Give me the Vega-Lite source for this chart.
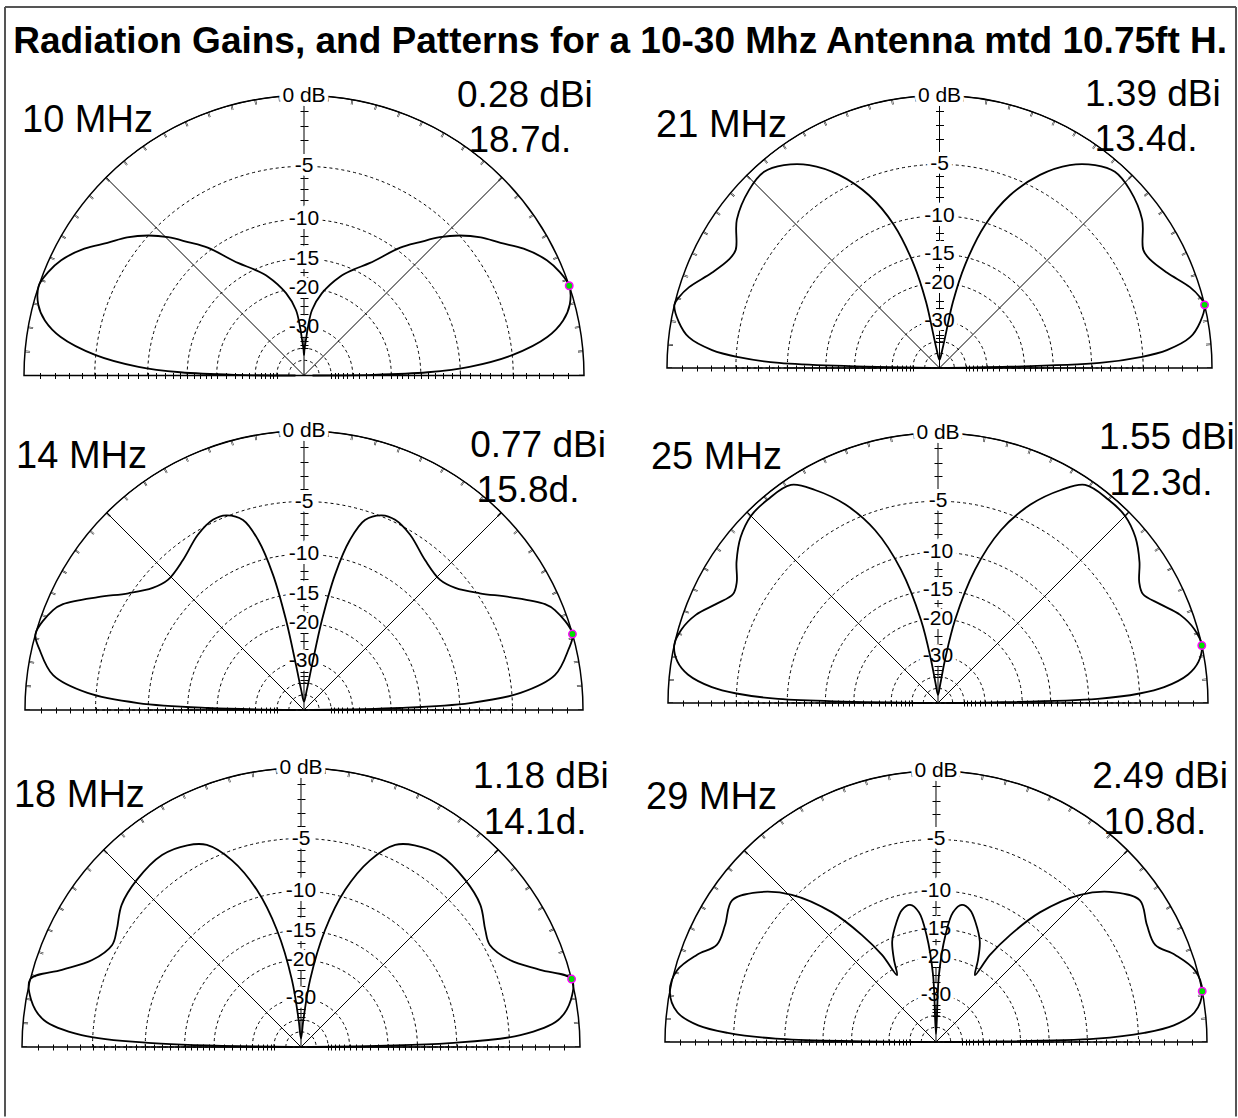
{
"$schema":"https://vega.github.io/schema/vega-lite/v6.json",
"background":"white",
"padding":{"left":4,"top":6,"right":0,"bottom":0},
"config":{"view":{"stroke":null},"axis":{"labels":false,"grid":false}},
"datasets":{
"rings":[{"db":0,"lab":"0 dB"},{"db":-5,"lab":"-5"},{"db":-10,"lab":"-10"},{"db":-15,"lab":"-15"},{"db":-20,"lab":"-20"},{"db":-30,"lab":"-30"},{"db":-40,"lab":""},{"db":-50,"lab":""}],
"info":[{"b":10,"f":"10 MHz","gn":"0.28 dBi","an":"18.7d.","ang":18.7},{"b":21,"f":"21 MHz","gn":"1.39 dBi","an":"13.4d.","ang":13.4},{"b":14,"f":"14 MHz","gn":"0.77 dBi","an":"15.8d.","ang":15.8},{"b":25,"f":"25 MHz","gn":"1.55 dBi","an":"12.3d.","ang":12.3},{"b":18,"f":"18 MHz","gn":"1.18 dBi","an":"14.1d.","ang":14.1},{"b":29,"f":"29 MHz","gn":"2.49 dBi","an":"10.8d.","ang":10.8}],
"heading":[{"t":"Radiation Gains, and Patterns for a 10-30 Mhz Antenna mtd 10.75ft H."}],
"pat":[
{"b":10,"a":0,"g":-60},{"b":10,"a":0.5,"g":-24},{"b":10,"a":1.5,"g":-14},{"b":10,"a":3,"g":-9},{"b":10,"a":5.6,"g":-5},{"b":10,"a":9,"g":-2.2},{"b":10,"a":12,"g":-0.95},{"b":10,"a":15,"g":-0.3},{"b":10,"a":18.7,"g":0},{"b":10,"a":22,"g":-0.25},{"b":10,"a":25.4,"g":-0.7},{"b":10,"a":30,"g":-1.7},{"b":10,"a":34,"g":-2.85},{"b":10,"a":38,"g":-3.8},{"b":10,"a":42,"g":-5},{"b":10,"a":45.5,"g":-6.3},{"b":10,"a":49,"g":-7.9},{"b":10,"a":53,"g":-9.6},{"b":10,"a":59.6,"g":-13.1},{"b":10,"a":65,"g":-15},{"b":10,"a":70,"g":-16.8},{"b":10,"a":77.7,"g":-20.6},{"b":10,"a":83,"g":-24.8},{"b":10,"a":85.3,"g":-30},{"b":10,"a":86.8,"g":-35},{"b":10,"a":89,"g":-41},{"b":10,"a":90,"g":-45},
{"b":10,"a":91,"g":-41},{"b":10,"a":93.2,"g":-35},{"b":10,"a":94.7,"g":-30},{"b":10,"a":97,"g":-24.8},{"b":10,"a":102.3,"g":-20.6},{"b":10,"a":110,"g":-16.8},{"b":10,"a":115,"g":-15},{"b":10,"a":120.4,"g":-13.1},{"b":10,"a":127,"g":-9.6},{"b":10,"a":131,"g":-7.9},{"b":10,"a":134.5,"g":-6.3},{"b":10,"a":138,"g":-5},{"b":10,"a":142,"g":-3.8},{"b":10,"a":146,"g":-2.85},{"b":10,"a":150,"g":-1.7},{"b":10,"a":154.6,"g":-0.7},{"b":10,"a":158,"g":-0.25},{"b":10,"a":161.3,"g":0},{"b":10,"a":165,"g":-0.3},{"b":10,"a":168,"g":-0.95},{"b":10,"a":171,"g":-2.2},{"b":10,"a":174.4,"g":-5},{"b":10,"a":177,"g":-9},{"b":10,"a":178.5,"g":-14},{"b":10,"a":179.5,"g":-24},{"b":10,"a":180,"g":-60},
{"b":21,"a":0,"g":-60},{"b":21,"a":1.8,"g":-9.1},{"b":21,"a":3.1,"g":-5.2},{"b":21,"a":4.5,"g":-3.05},{"b":21,"a":7,"g":-1.3},{"b":21,"a":10,"g":-0.5},{"b":21,"a":13.4,"g":0},{"b":21,"a":15.2,"g":-0.16},{"b":21,"a":17.9,"g":-0.6},{"b":21,"a":22.7,"g":-1.7},{"b":21,"a":27.2,"g":-2.4},{"b":21,"a":30.1,"g":-2.5},{"b":21,"a":36.2,"g":-1.4},{"b":21,"a":43.1,"g":-0.76},{"b":21,"a":48.2,"g":-0.6},{"b":21,"a":52.5,"g":-1.1},{"b":21,"a":57.3,"g":-2.1},{"b":21,"a":62.5,"g":-3.85},{"b":21,"a":67.8,"g":-6.5},{"b":21,"a":72.3,"g":-10.2},{"b":21,"a":76.1,"g":-16.2},{"b":21,"a":78.5,"g":-24},{"b":21,"a":79.5,"g":-35},{"b":21,"a":81,"g":-45},{"b":21,"a":90,"g":-60},
{"b":21,"a":99,"g":-45},{"b":21,"a":100.5,"g":-35},{"b":21,"a":101.5,"g":-24},{"b":21,"a":103.9,"g":-16.2},{"b":21,"a":107.7,"g":-10.2},{"b":21,"a":112.2,"g":-6.5},{"b":21,"a":117.5,"g":-3.85},{"b":21,"a":122.7,"g":-2.1},{"b":21,"a":127.5,"g":-1.1},{"b":21,"a":131.8,"g":-0.6},{"b":21,"a":136.9,"g":-0.76},{"b":21,"a":143.8,"g":-1.4},{"b":21,"a":149.9,"g":-2.5},{"b":21,"a":152.8,"g":-2.4},{"b":21,"a":157.3,"g":-1.7},{"b":21,"a":162.1,"g":-0.6},{"b":21,"a":164.8,"g":-0.16},{"b":21,"a":166.6,"g":0},{"b":21,"a":170,"g":-0.5},{"b":21,"a":173,"g":-1.3},{"b":21,"a":175.5,"g":-3.05},{"b":21,"a":176.9,"g":-5.2},{"b":21,"a":178.2,"g":-9.1},{"b":21,"a":180,"g":-60},
{"b":14,"a":0,"g":-60},{"b":14,"a":1.2,"g":-18.3},{"b":14,"a":2.4,"g":-8.9},{"b":14,"a":4.5,"g":-4.3},{"b":14,"a":7.9,"g":-1.66},{"b":14,"a":12.8,"g":-0.5},{"b":14,"a":15.8,"g":0},{"b":14,"a":21.7,"g":-0.56},{"b":14,"a":23.7,"g":-1},{"b":14,"a":28.7,"g":-2.95},{"b":14,"a":33.6,"g":-4.8},{"b":14,"a":38.9,"g":-6.2},{"b":14,"a":43.7,"g":-6.75},{"b":14,"a":51.1,"g":-6.35},{"b":14,"a":58.8,"g":-5.3},{"b":14,"a":64.4,"g":-4.8},{"b":14,"a":68.2,"g":-4.9},{"b":14,"a":72.2,"g":-5.75},{"b":14,"a":74.9,"g":-7.9},{"b":14,"a":77.1,"g":-12},{"b":14,"a":78.7,"g":-19.1},{"b":14,"a":79.9,"g":-31},{"b":14,"a":82,"g":-45},{"b":14,"a":90,"g":-60},
{"b":14,"a":98,"g":-45},{"b":14,"a":100.1,"g":-31},{"b":14,"a":101.3,"g":-19.1},{"b":14,"a":102.9,"g":-12},{"b":14,"a":105.1,"g":-7.9},{"b":14,"a":107.8,"g":-5.75},{"b":14,"a":111.8,"g":-4.9},{"b":14,"a":115.6,"g":-4.8},{"b":14,"a":121.2,"g":-5.3},{"b":14,"a":128.9,"g":-6.35},{"b":14,"a":136.3,"g":-6.75},{"b":14,"a":141.1,"g":-6.2},{"b":14,"a":146.4,"g":-4.8},{"b":14,"a":151.3,"g":-2.95},{"b":14,"a":156.3,"g":-1},{"b":14,"a":158.3,"g":-0.56},{"b":14,"a":164.2,"g":0},{"b":14,"a":167.2,"g":-0.5},{"b":14,"a":172.1,"g":-1.66},{"b":14,"a":175.5,"g":-4.3},{"b":14,"a":177.6,"g":-8.9},{"b":14,"a":178.8,"g":-18.3},{"b":14,"a":180,"g":-60},
{"b":25,"a":0,"g":-60},{"b":25,"a":1.5,"g":-9},{"b":25,"a":2.7,"g":-5},{"b":25,"a":4,"g":-3},{"b":25,"a":6.5,"g":-1.2},{"b":25,"a":9,"g":-0.4},{"b":25,"a":12.3,"g":0},{"b":25,"a":16,"g":-0.2},{"b":25,"a":20,"g":-0.8},{"b":25,"a":24,"g":-1.8},{"b":25,"a":28,"g":-2.6},{"b":25,"a":31,"g":-2.4},{"b":25,"a":35,"g":-1.6},{"b":25,"a":40,"g":-0.8},{"b":25,"a":45,"g":-0.35},{"b":25,"a":50,"g":-0.3},{"b":25,"a":56,"g":-0.45},{"b":25,"a":60,"g":-1.6},{"b":25,"a":65,"g":-3.6},{"b":25,"a":70,"g":-6.6},{"b":25,"a":74.5,"g":-11.5},{"b":25,"a":78.4,"g":-19.9},{"b":25,"a":80.8,"g":-31.3},{"b":25,"a":83,"g":-45},{"b":25,"a":90,"g":-60},
{"b":25,"a":97,"g":-45},{"b":25,"a":99.2,"g":-31.3},{"b":25,"a":101.6,"g":-19.9},{"b":25,"a":105.5,"g":-11.5},{"b":25,"a":110,"g":-6.6},{"b":25,"a":115,"g":-3.6},{"b":25,"a":120,"g":-1.6},{"b":25,"a":124,"g":-0.45},{"b":25,"a":130,"g":-0.3},{"b":25,"a":135,"g":-0.35},{"b":25,"a":140,"g":-0.8},{"b":25,"a":145,"g":-1.6},{"b":25,"a":149,"g":-2.4},{"b":25,"a":152,"g":-2.6},{"b":25,"a":156,"g":-1.8},{"b":25,"a":160,"g":-0.8},{"b":25,"a":164,"g":-0.2},{"b":25,"a":167.7,"g":0},{"b":25,"a":171,"g":-0.4},{"b":25,"a":173.5,"g":-1.2},{"b":25,"a":176,"g":-3},{"b":25,"a":177.3,"g":-5},{"b":25,"a":178.5,"g":-9},{"b":25,"a":180,"g":-60},
{"b":18,"a":0,"g":-60},{"b":18,"a":1.5,"g":-10.8},{"b":18,"a":3.1,"g":-4.1},{"b":18,"a":6,"g":-1.3},{"b":18,"a":10,"g":-0.3},{"b":18,"a":14.1,"g":0},{"b":18,"a":17.9,"g":-1.8},{"b":18,"a":22.6,"g":-3.6},{"b":18,"a":28.4,"g":-4.5},{"b":18,"a":32.5,"g":-4.2},{"b":18,"a":38.4,"g":-3.4},{"b":18,"a":45.5,"g":-3},{"b":18,"a":54.1,"g":-2.8},{"b":18,"a":60.6,"g":-3.2},{"b":18,"a":65,"g":-3.85},{"b":18,"a":69.7,"g":-5.8},{"b":18,"a":74.3,"g":-9.2},{"b":18,"a":78.4,"g":-14.6},{"b":18,"a":82.3,"g":-24.3},{"b":18,"a":85,"g":-40},{"b":18,"a":90,"g":-60},
{"b":18,"a":95,"g":-40},{"b":18,"a":97.7,"g":-24.3},{"b":18,"a":101.6,"g":-14.6},{"b":18,"a":105.7,"g":-9.2},{"b":18,"a":110.3,"g":-5.8},{"b":18,"a":115,"g":-3.85},{"b":18,"a":119.4,"g":-3.2},{"b":18,"a":125.9,"g":-2.8},{"b":18,"a":134.5,"g":-3},{"b":18,"a":141.6,"g":-3.4},{"b":18,"a":147.5,"g":-4.2},{"b":18,"a":151.6,"g":-4.5},{"b":18,"a":157.4,"g":-3.6},{"b":18,"a":162.1,"g":-1.8},{"b":18,"a":165.9,"g":0},{"b":18,"a":170,"g":-0.3},{"b":18,"a":174,"g":-1.3},{"b":18,"a":176.9,"g":-4.1},{"b":18,"a":178.5,"g":-10.8},{"b":18,"a":180,"g":-60},
{"b":29,"a":0,"g":-60},{"b":29,"a":1.2,"g":-9},{"b":29,"a":2.5,"g":-4.5},{"b":29,"a":4,"g":-2.2},{"b":29,"a":6.5,"g":-0.7},{"b":29,"a":10.8,"g":0},{"b":29,"a":15.5,"g":-0.15},{"b":29,"a":20,"g":-1.07},{"b":29,"a":23.9,"g":-2.1},{"b":29,"a":29,"g":-2},{"b":29,"a":34.8,"g":-1.5},{"b":29,"a":40,"g":-2.6},{"b":29,"a":45.6,"g":-4.7},{"b":29,"a":51.3,"g":-8.4},{"b":29,"a":55.3,"g":-12.6},{"b":29,"a":58.2,"g":-16.7},{"b":29,"a":59.8,"g":-21.5},{"b":29,"a":62.9,"g":-18.5},{"b":29,"a":66.5,"g":-15.5},{"b":29,"a":71.6,"g":-13.2},{"b":29,"a":75.5,"g":-11.8},{"b":29,"a":79.3,"g":-11.4},{"b":29,"a":82.5,"g":-12.5},{"b":29,"a":85,"g":-16},{"b":29,"a":87.5,"g":-24},{"b":29,"a":90,"g":-60},
{"b":29,"a":92.5,"g":-24},{"b":29,"a":95,"g":-16},{"b":29,"a":97.5,"g":-12.5},{"b":29,"a":100.7,"g":-11.4},{"b":29,"a":104.5,"g":-11.8},{"b":29,"a":108.4,"g":-13.2},{"b":29,"a":113.5,"g":-15.5},{"b":29,"a":117.1,"g":-18.5},{"b":29,"a":120.2,"g":-21.5},{"b":29,"a":121.8,"g":-16.7},{"b":29,"a":124.7,"g":-12.6},{"b":29,"a":128.7,"g":-8.4},{"b":29,"a":134.4,"g":-4.7},{"b":29,"a":140,"g":-2.6},{"b":29,"a":145.2,"g":-1.5},{"b":29,"a":151,"g":-2},{"b":29,"a":156.1,"g":-2.1},{"b":29,"a":160,"g":-1.07},{"b":29,"a":164.5,"g":-0.15},{"b":29,"a":169.2,"g":0},{"b":29,"a":173.5,"g":-0.7},{"b":29,"a":176,"g":-2.2},{"b":29,"a":177.5,"g":-4.5},{"b":29,"a":178.8,"g":-9},{"b":29,"a":180,"g":-60}
]},
"columns":2,"spacing":0,"bounds":"flush",
"concat":[
{"width":615,"height":340,"resolve":{"axis":{"x":"independent","y":"independent"}},
"layer":[
{"data":{"name":"rings"},"transform":[{"filter":"datum.db < 0"},{"calculate":"exp(0.058267*datum.db)","as":"r"}],
"mark":{"type":"arc","theta":-1.5707963,"theta2":1.5707963,"filled":false,"stroke":"black","strokeWidth":1,"strokeDash":[3,3]},
"encoding":{"x":{"datum":0,"type":"quantitative","scale":{"domain":[-1.06786,1.12857],"nice":false,"zero":false},"axis":{"orient":"bottom","offset":-24.5,"values":[-0.9434,-0.89,-0.8396,-0.7921,-0.7473,-0.705,-0.6651,-0.6274,-0.5919,-0.5584,-0.5268,-0.497,-0.4689,-0.4423,-0.4173,-0.3937,-0.3714,-0.3504,-0.3305,-0.3118,-0.2775,-0.247,-0.2198,-0.1956,-0.1741,-0.155,-0.1379,-0.1228,-0.1092,-0.0972,0.0972,0.1092,0.1228,0.1379,0.155,0.1741,0.1956,0.2198,0.247,0.2775,0.3118,0.3305,0.3504,0.3714,0.3937,0.4173,0.4423,0.4689,0.497,0.5268,0.5584,0.5919,0.6274,0.6651,0.705,0.7473,0.7921,0.8396,0.89,0.9434],"tickSize":3,"domain":false,"labels":false,"grid":false,"title":null,"tickColor":"black"}},
"y":{"datum":0,"type":"quantitative","scale":{"domain":[-0.0875,1.12679],"nice":false,"zero":false},"axis":{"orient":"left","offset":-299,"values":[0.0972,0.1092,0.1228,0.1379,0.155,0.1741,0.1956,0.2198,0.247,0.2775,0.3118,0.3305,0.3504,0.3714,0.3937,0.4173,0.4423,0.4689,0.497,0.5268,0.5584,0.5919,0.6274,0.6651,0.705,0.7473,0.7921,0.8396,0.89,0.9434],"tickSize":4,"domain":false,"labels":false,"grid":false,"title":null,"tickColor":"black"}},
"radius":{"field":"r","type":"quantitative","stack":null,"scale":{"type":"linear","domain":[0,1],"range":[0,280],"zero":true,"nice":false}}}},
{"data":{"values":[{"k":1}]},
"mark":{"type":"arc","theta":-1.5707963,"theta2":1.5707963,"filled":false,"stroke":"black","strokeWidth":1.5},
"encoding":{"x":{"datum":0,"type":"quantitative","scale":{"domain":[-1.06786,1.12857],"nice":false,"zero":false},"axis":{"orient":"top","offset":-315.5,"values":[-0.9434,-0.89,-0.8396,-0.7921,-0.7473,-0.705,-0.6651,-0.6274,-0.5919,-0.5584,-0.5268,-0.497,-0.4689,-0.4423,-0.4173,-0.3937,-0.3714,-0.3504,-0.3305,-0.3118,-0.2775,-0.247,-0.2198,-0.1956,-0.1741,-0.155,-0.1379,-0.1228,-0.1092,-0.0972,0.0972,0.1092,0.1228,0.1379,0.155,0.1741,0.1956,0.2198,0.247,0.2775,0.3118,0.3305,0.3504,0.3714,0.3937,0.4173,0.4423,0.4689,0.497,0.5268,0.5584,0.5919,0.6274,0.6651,0.705,0.7473,0.7921,0.8396,0.89,0.9434],"tickSize":3,"domain":false,"labels":false,"grid":false,"title":null,"tickColor":"black"}},
"y":{"datum":0,"type":"quantitative","scale":{"domain":[-0.0875,1.12679],"nice":false,"zero":false},"axis":{"orient":"right","offset":-316,"values":[0.0972,0.1092,0.1228,0.1379,0.155,0.1741,0.1956,0.2198,0.247,0.2775,0.3118,0.3305,0.3504,0.3714,0.3937,0.4173,0.4423,0.4689,0.497,0.5268,0.5584,0.5919,0.6274,0.6651,0.705,0.7473,0.7921,0.8396,0.89,0.9434],"tickSize":4,"domain":false,"labels":false,"grid":false,"title":null,"tickColor":"black"}},
"radius":{"datum":1,"type":"quantitative","scale":{"type":"linear","domain":[0,1],"range":[0,280],"zero":true,"nice":false}}}},
{"data":{"values":[{"k":1}]},
"mark":{"type":"arc","theta":-0.7853982,"theta2":0.7853982,"filled":false,"stroke":"black","strokeWidth":1},
"encoding":{"x":{"datum":0,"type":"quantitative","scale":{"domain":[-1.06786,1.12857],"nice":false,"zero":false},"axis":null},"y":{"datum":0,"type":"quantitative","scale":{"domain":[-0.0875,1.12679],"nice":false,"zero":false},"axis":null},"radius":{"datum":1,"type":"quantitative","scale":{"type":"linear","domain":[0,1],"range":[0,280],"zero":true,"nice":false}}}},
{"data":{"values":[{"k":1}]},
"mark":{"type":"arc","theta":-1.5707963,"theta2":1.5707963,"filled":false,"stroke":"black","strokeWidth":5,"strokeDash":[0.5,23.716]},
"encoding":{"x":{"datum":0,"type":"quantitative","scale":{"domain":[-1.06786,1.12857],"nice":false,"zero":false},"axis":null},"y":{"datum":0,"type":"quantitative","scale":{"domain":[-0.0875,1.12679],"nice":false,"zero":false},"axis":null},"radius":{"datum":0.99107,"type":"quantitative","scale":{"type":"linear","domain":[0,1],"range":[0,280],"zero":true,"nice":false}},"radius2":{"datum":0.99107}}},
{"data":{"values":[{"k":1}]},
"mark":{"type":"rule","stroke":"black","strokeWidth":1},
"encoding":{"x":{"datum":0,"type":"quantitative","scale":{"domain":[-1.06786,1.12857],"nice":false,"zero":false},"axis":null},"y":{"datum":0,"type":"quantitative","scale":{"domain":[-0.0875,1.12679],"nice":false,"zero":false},"axis":null},"y2":{"datum":1}}},
{"data":{"name":"rings"},"transform":[{"filter":"datum.lab != ''"},{"calculate":"exp(0.058267*datum.db)","as":"r"}],
"mark":{"type":"text","font":"Liberation Sans","fontSize":21,"align":"center","baseline":"middle","fill":"white","stroke":"white","strokeWidth":8},
"encoding":{"x":{"datum":0,"type":"quantitative","scale":{"domain":[-1.06786,1.12857],"nice":false,"zero":false},"axis":null},"y":{"field":"r","type":"quantitative","scale":{"domain":[-0.0875,1.12679],"nice":false,"zero":false},"axis":null},"text":{"field":"lab"}}},
{"data":{"name":"rings"},"transform":[{"filter":"datum.lab != ''"},{"calculate":"exp(0.058267*datum.db)","as":"r"}],
"mark":{"type":"text","font":"Liberation Sans","fontSize":21,"align":"center","baseline":"middle","fill":"black"},
"encoding":{"x":{"datum":0,"type":"quantitative","scale":{"domain":[-1.06786,1.12857],"nice":false,"zero":false},"axis":null},"y":{"field":"r","type":"quantitative","scale":{"domain":[-0.0875,1.12679],"nice":false,"zero":false},"axis":null},"text":{"field":"lab"}}},
{"data":{"name":"pat"},"transform":[{"filter":"datum.b == 10"},{"calculate":"exp(0.058267*datum.g)","as":"r"},{"calculate":"datum.r*cos(datum.a*PI/180)","as":"px"},{"calculate":"datum.r*sin(datum.a*PI/180)","as":"py"}],
"mark":{"type":"line","stroke":"black","strokeWidth":1.8,"strokeJoin":"round","interpolate":"catmull-rom"},
"encoding":{"x":{"field":"px","type":"quantitative","scale":{"domain":[-1.06786,1.12857],"nice":false,"zero":false},"axis":null},"y":{"field":"py","type":"quantitative","scale":{"domain":[-0.0875,1.12679],"nice":false,"zero":false},"axis":null},"order":{"field":"a","type":"quantitative"}}},
{"data":{"name":"info"},"transform":[{"filter":"datum.b == 10"},{"calculate":"cos(datum.ang*PI/180)","as":"px"},{"calculate":"sin(datum.ang*PI/180)","as":"py"}],
"mark":{"type":"point","shape":"circle","filled":true,"fill":"#00e000","stroke":"#ff00ff","strokeWidth":1.5,"size":55,"opacity":1},
"encoding":{"x":{"field":"px","type":"quantitative","scale":{"domain":[-1.06786,1.12857],"nice":false,"zero":false},"axis":null},"y":{"field":"py","type":"quantitative","scale":{"domain":[-0.0875,1.12679],"nice":false,"zero":false},"axis":null}}},
{"data":{"name":"info"},"transform":[{"filter":"datum.b == 10"}],
"mark":{"type":"text","font":"Liberation Sans","fontSize":38,"align":"left","baseline":"alphabetic","fill":"black"},
"encoding":{"x":{"datum":-1.007,"type":"quantitative","scale":{"domain":[-1.06786,1.12857],"nice":false,"zero":false},"axis":null},"y":{"datum":0.87,"type":"quantitative","scale":{"domain":[-0.0875,1.12679],"nice":false,"zero":false},"axis":null},"text":{"field":"f"}}},
{"data":{"name":"info"},"transform":[{"filter":"datum.b == 10"}],
"mark":{"type":"text","font":"Liberation Sans","fontSize":37,"align":"center","baseline":"alphabetic","fill":"black"},
"encoding":{"x":{"datum":0.789,"type":"quantitative","scale":{"domain":[-1.06786,1.12857],"nice":false,"zero":false},"axis":null},"y":{"datum":0.959,"type":"quantitative","scale":{"domain":[-0.0875,1.12679],"nice":false,"zero":false},"axis":null},"text":{"field":"gn"}}},
{"data":{"name":"info"},"transform":[{"filter":"datum.b == 10"}],
"mark":{"type":"text","font":"Liberation Sans","fontSize":37,"align":"center","baseline":"alphabetic","fill":"black"},
"encoding":{"x":{"datum":0.771,"type":"quantitative","scale":{"domain":[-1.06786,1.12857],"nice":false,"zero":false},"axis":null},"y":{"datum":0.798,"type":"quantitative","scale":{"domain":[-0.0875,1.12679],"nice":false,"zero":false},"axis":null},"text":{"field":"an"}}},
{"data":{"name":"heading"},
"mark":{"type":"text","font":"Liberation Sans","fontSize":37,"fontWeight":"bold","align":"center","baseline":"alphabetic","fill":"black"},
"encoding":{"x":{"datum":1.129,"type":"quantitative","scale":{"domain":[-1.06786,1.12857],"nice":false,"zero":false},"axis":null},"y":{"datum":1.152,"type":"quantitative","scale":{"domain":[-0.0875,1.12679],"nice":false,"zero":false},"axis":null},"text":{"field":"t"}}},
{"data":{"values":[{"k":1}]},
"mark":{"type":"rule","stroke":"#555555","strokeWidth":2},
"encoding":{"x":{"datum":-1.06786,"type":"quantitative","scale":{"domain":[-1.06786,1.12857],"nice":false,"zero":false},"axis":null},"y":{"datum":1.31607,"type":"quantitative","scale":{"domain":[-0.0875,1.12679],"nice":false,"zero":false},"axis":null},"y2":{"datum":-2.64643}}},
{"data":{"values":[{"k":1}]},
"mark":{"type":"rule","stroke":"#555555","strokeWidth":2},
"encoding":{"x":{"datum":3.32857,"type":"quantitative","scale":{"domain":[-1.06786,1.12857],"nice":false,"zero":false},"axis":null},"y":{"datum":1.31607,"type":"quantitative","scale":{"domain":[-0.0875,1.12679],"nice":false,"zero":false},"axis":null},"y2":{"datum":-2.64643}}},
{"data":{"values":[{"k":1}]},
"mark":{"type":"rule","stroke":"#555555","strokeWidth":2},
"encoding":{"x":{"datum":-1.06786,"type":"quantitative","scale":{"domain":[-1.06786,1.12857],"nice":false,"zero":false},"axis":null},"x2":{"datum":3.32857},"y":{"datum":1.31607,"type":"quantitative","scale":{"domain":[-0.0875,1.12679],"nice":false,"zero":false},"axis":null}}}
]},
{"width":615,"height":340,"resolve":{"axis":{"x":"independent","y":"independent"}},
"layer":[
{"data":{"name":"rings"},"transform":[{"filter":"datum.db < 0"},{"calculate":"exp(0.058267*datum.db)","as":"r"}],
"mark":{"type":"arc","theta":-1.5707963,"theta2":1.5707963,"filled":false,"stroke":"black","strokeWidth":1,"strokeDash":[3,3]},
"encoding":{"x":{"datum":0,"type":"quantitative","scale":{"domain":[-1.17248,1.0844],"nice":false,"zero":false},"axis":{"orient":"bottom","offset":-32,"values":[-0.9434,-0.89,-0.8396,-0.7921,-0.7473,-0.705,-0.6651,-0.6274,-0.5919,-0.5584,-0.5268,-0.497,-0.4689,-0.4423,-0.4173,-0.3937,-0.3714,-0.3504,-0.3305,-0.3118,-0.2775,-0.247,-0.2198,-0.1956,-0.1741,-0.155,-0.1379,-0.1228,-0.1092,-0.0972,0.0972,0.1092,0.1228,0.1379,0.155,0.1741,0.1956,0.2198,0.247,0.2775,0.3118,0.3305,0.3504,0.3714,0.3937,0.4173,0.4423,0.4689,0.497,0.5268,0.5584,0.5919,0.6274,0.6651,0.705,0.7473,0.7921,0.8396,0.89,0.9434],"tickSize":3,"domain":false,"labels":false,"grid":false,"title":null,"tickColor":"black"}},
"y":{"datum":0,"type":"quantitative","scale":{"domain":[-0.11743,1.13028],"nice":false,"zero":false},"axis":{"orient":"left","offset":-319.5,"values":[0.0972,0.1092,0.1228,0.1379,0.155,0.1741,0.1956,0.2198,0.247,0.2775,0.3118,0.3305,0.3504,0.3714,0.3937,0.4173,0.4423,0.4689,0.497,0.5268,0.5584,0.5919,0.6274,0.6651,0.705,0.7473,0.7921,0.8396,0.89,0.9434],"tickSize":4,"domain":false,"labels":false,"grid":false,"title":null,"tickColor":"black"}},
"radius":{"field":"r","type":"quantitative","stack":null,"scale":{"type":"linear","domain":[0,1],"range":[0,272.5],"zero":true,"nice":false}}}},
{"data":{"values":[{"k":1}]},
"mark":{"type":"arc","theta":-1.5707963,"theta2":1.5707963,"filled":false,"stroke":"black","strokeWidth":1.5},
"encoding":{"x":{"datum":0,"type":"quantitative","scale":{"domain":[-1.17248,1.0844],"nice":false,"zero":false},"axis":{"orient":"top","offset":-308,"values":[-0.9434,-0.89,-0.8396,-0.7921,-0.7473,-0.705,-0.6651,-0.6274,-0.5919,-0.5584,-0.5268,-0.497,-0.4689,-0.4423,-0.4173,-0.3937,-0.3714,-0.3504,-0.3305,-0.3118,-0.2775,-0.247,-0.2198,-0.1956,-0.1741,-0.155,-0.1379,-0.1228,-0.1092,-0.0972,0.0972,0.1092,0.1228,0.1379,0.155,0.1741,0.1956,0.2198,0.247,0.2775,0.3118,0.3305,0.3504,0.3714,0.3937,0.4173,0.4423,0.4689,0.497,0.5268,0.5584,0.5919,0.6274,0.6651,0.705,0.7473,0.7921,0.8396,0.89,0.9434],"tickSize":3,"domain":false,"labels":false,"grid":false,"title":null,"tickColor":"black"}},
"y":{"datum":0,"type":"quantitative","scale":{"domain":[-0.11743,1.13028],"nice":false,"zero":false},"axis":{"orient":"right","offset":-295.5,"values":[0.0972,0.1092,0.1228,0.1379,0.155,0.1741,0.1956,0.2198,0.247,0.2775,0.3118,0.3305,0.3504,0.3714,0.3937,0.4173,0.4423,0.4689,0.497,0.5268,0.5584,0.5919,0.6274,0.6651,0.705,0.7473,0.7921,0.8396,0.89,0.9434],"tickSize":4,"domain":false,"labels":false,"grid":false,"title":null,"tickColor":"black"}},
"radius":{"datum":1,"type":"quantitative","scale":{"type":"linear","domain":[0,1],"range":[0,272.5],"zero":true,"nice":false}}}},
{"data":{"values":[{"k":1}]},
"mark":{"type":"arc","theta":-0.7853982,"theta2":0.7853982,"filled":false,"stroke":"black","strokeWidth":1},
"encoding":{"x":{"datum":0,"type":"quantitative","scale":{"domain":[-1.17248,1.0844],"nice":false,"zero":false},"axis":null},"y":{"datum":0,"type":"quantitative","scale":{"domain":[-0.11743,1.13028],"nice":false,"zero":false},"axis":null},"radius":{"datum":1,"type":"quantitative","scale":{"type":"linear","domain":[0,1],"range":[0,272.5],"zero":true,"nice":false}}}},
{"data":{"values":[{"k":1}]},
"mark":{"type":"arc","theta":-1.5707963,"theta2":1.5707963,"filled":false,"stroke":"black","strokeWidth":5,"strokeDash":[0.5,23.062]},
"encoding":{"x":{"datum":0,"type":"quantitative","scale":{"domain":[-1.17248,1.0844],"nice":false,"zero":false},"axis":null},"y":{"datum":0,"type":"quantitative","scale":{"domain":[-0.11743,1.13028],"nice":false,"zero":false},"axis":null},"radius":{"datum":0.99083,"type":"quantitative","scale":{"type":"linear","domain":[0,1],"range":[0,272.5],"zero":true,"nice":false}},"radius2":{"datum":0.99083}}},
{"data":{"values":[{"k":1}]},
"mark":{"type":"rule","stroke":"black","strokeWidth":1},
"encoding":{"x":{"datum":0,"type":"quantitative","scale":{"domain":[-1.17248,1.0844],"nice":false,"zero":false},"axis":null},"y":{"datum":0,"type":"quantitative","scale":{"domain":[-0.11743,1.13028],"nice":false,"zero":false},"axis":null},"y2":{"datum":1}}},
{"data":{"name":"rings"},"transform":[{"filter":"datum.lab != ''"},{"calculate":"exp(0.058267*datum.db)","as":"r"}],
"mark":{"type":"text","font":"Liberation Sans","fontSize":21,"align":"center","baseline":"middle","fill":"white","stroke":"white","strokeWidth":8},
"encoding":{"x":{"datum":0,"type":"quantitative","scale":{"domain":[-1.17248,1.0844],"nice":false,"zero":false},"axis":null},"y":{"field":"r","type":"quantitative","scale":{"domain":[-0.11743,1.13028],"nice":false,"zero":false},"axis":null},"text":{"field":"lab"}}},
{"data":{"name":"rings"},"transform":[{"filter":"datum.lab != ''"},{"calculate":"exp(0.058267*datum.db)","as":"r"}],
"mark":{"type":"text","font":"Liberation Sans","fontSize":21,"align":"center","baseline":"middle","fill":"black"},
"encoding":{"x":{"datum":0,"type":"quantitative","scale":{"domain":[-1.17248,1.0844],"nice":false,"zero":false},"axis":null},"y":{"field":"r","type":"quantitative","scale":{"domain":[-0.11743,1.13028],"nice":false,"zero":false},"axis":null},"text":{"field":"lab"}}},
{"data":{"name":"pat"},"transform":[{"filter":"datum.b == 21"},{"calculate":"exp(0.058267*datum.g)","as":"r"},{"calculate":"datum.r*cos(datum.a*PI/180)","as":"px"},{"calculate":"datum.r*sin(datum.a*PI/180)","as":"py"}],
"mark":{"type":"line","stroke":"black","strokeWidth":1.8,"strokeJoin":"round","interpolate":"catmull-rom"},
"encoding":{"x":{"field":"px","type":"quantitative","scale":{"domain":[-1.17248,1.0844],"nice":false,"zero":false},"axis":null},"y":{"field":"py","type":"quantitative","scale":{"domain":[-0.11743,1.13028],"nice":false,"zero":false},"axis":null},"order":{"field":"a","type":"quantitative"}}},
{"data":{"name":"info"},"transform":[{"filter":"datum.b == 21"},{"calculate":"cos(datum.ang*PI/180)","as":"px"},{"calculate":"sin(datum.ang*PI/180)","as":"py"}],
"mark":{"type":"point","shape":"circle","filled":true,"fill":"#00e000","stroke":"#ff00ff","strokeWidth":1.5,"size":55,"opacity":1},
"encoding":{"x":{"field":"px","type":"quantitative","scale":{"domain":[-1.17248,1.0844],"nice":false,"zero":false},"axis":null},"y":{"field":"py","type":"quantitative","scale":{"domain":[-0.11743,1.13028],"nice":false,"zero":false},"axis":null}}},
{"data":{"name":"info"},"transform":[{"filter":"datum.b == 21"}],
"mark":{"type":"text","font":"Liberation Sans","fontSize":38,"align":"left","baseline":"alphabetic","fill":"black"},
"encoding":{"x":{"datum":-1.04,"type":"quantitative","scale":{"domain":[-1.17248,1.0844],"nice":false,"zero":false},"axis":null},"y":{"datum":0.848,"type":"quantitative","scale":{"domain":[-0.11743,1.13028],"nice":false,"zero":false},"axis":null},"text":{"field":"f"}}},
{"data":{"name":"info"},"transform":[{"filter":"datum.b == 21"}],
"mark":{"type":"text","font":"Liberation Sans","fontSize":37,"align":"center","baseline":"alphabetic","fill":"black"},
"encoding":{"x":{"datum":0.783,"type":"quantitative","scale":{"domain":[-1.17248,1.0844],"nice":false,"zero":false},"axis":null},"y":{"datum":0.961,"type":"quantitative","scale":{"domain":[-0.11743,1.13028],"nice":false,"zero":false},"axis":null},"text":{"field":"gn"}}},
{"data":{"name":"info"},"transform":[{"filter":"datum.b == 21"}],
"mark":{"type":"text","font":"Liberation Sans","fontSize":37,"align":"center","baseline":"alphabetic","fill":"black"},
"encoding":{"x":{"datum":0.758,"type":"quantitative","scale":{"domain":[-1.17248,1.0844],"nice":false,"zero":false},"axis":null},"y":{"datum":0.796,"type":"quantitative","scale":{"domain":[-0.11743,1.13028],"nice":false,"zero":false},"axis":null},"text":{"field":"an"}}}
]},
{"width":615,"height":340,"resolve":{"axis":{"x":"independent","y":"independent"}},
"layer":[
{"data":{"name":"rings"},"transform":[{"filter":"datum.db < 0"},{"calculate":"exp(0.058267*datum.db)","as":"r"}],
"mark":{"type":"arc","theta":-1.5707963,"theta2":1.5707963,"filled":false,"stroke":"black","strokeWidth":1,"strokeDash":[3,3]},
"encoding":{"x":{"datum":0,"type":"quantitative","scale":{"domain":[-1.07168,1.13262],"nice":false,"zero":false},"axis":{"orient":"bottom","offset":-30,"values":[-0.9434,-0.89,-0.8396,-0.7921,-0.7473,-0.705,-0.6651,-0.6274,-0.5919,-0.5584,-0.5268,-0.497,-0.4689,-0.4423,-0.4173,-0.3937,-0.3714,-0.3504,-0.3305,-0.3118,-0.2775,-0.247,-0.2198,-0.1956,-0.1741,-0.155,-0.1379,-0.1228,-0.1092,-0.0972,0.0972,0.1092,0.1228,0.1379,0.155,0.1741,0.1956,0.2198,0.247,0.2775,0.3118,0.3305,0.3504,0.3714,0.3937,0.4173,0.4423,0.4689,0.497,0.5268,0.5584,0.5919,0.6274,0.6651,0.705,0.7473,0.7921,0.8396,0.89,0.9434],"tickSize":3,"domain":false,"labels":false,"grid":false,"title":null,"tickColor":"black"}},
"y":{"datum":0,"type":"quantitative","scale":{"domain":[-0.10753,1.11111],"nice":false,"zero":false},"axis":{"orient":"left","offset":-299,"values":[0.0972,0.1092,0.1228,0.1379,0.155,0.1741,0.1956,0.2198,0.247,0.2775,0.3118,0.3305,0.3504,0.3714,0.3937,0.4173,0.4423,0.4689,0.497,0.5268,0.5584,0.5919,0.6274,0.6651,0.705,0.7473,0.7921,0.8396,0.89,0.9434],"tickSize":4,"domain":false,"labels":false,"grid":false,"title":null,"tickColor":"black"}},
"radius":{"field":"r","type":"quantitative","stack":null,"scale":{"type":"linear","domain":[0,1],"range":[0,279],"zero":true,"nice":false}}}},
{"data":{"values":[{"k":1}]},
"mark":{"type":"arc","theta":-1.5707963,"theta2":1.5707963,"filled":false,"stroke":"black","strokeWidth":1.5},
"encoding":{"x":{"datum":0,"type":"quantitative","scale":{"domain":[-1.07168,1.13262],"nice":false,"zero":false},"axis":{"orient":"top","offset":-310,"values":[-0.9434,-0.89,-0.8396,-0.7921,-0.7473,-0.705,-0.6651,-0.6274,-0.5919,-0.5584,-0.5268,-0.497,-0.4689,-0.4423,-0.4173,-0.3937,-0.3714,-0.3504,-0.3305,-0.3118,-0.2775,-0.247,-0.2198,-0.1956,-0.1741,-0.155,-0.1379,-0.1228,-0.1092,-0.0972,0.0972,0.1092,0.1228,0.1379,0.155,0.1741,0.1956,0.2198,0.247,0.2775,0.3118,0.3305,0.3504,0.3714,0.3937,0.4173,0.4423,0.4689,0.497,0.5268,0.5584,0.5919,0.6274,0.6651,0.705,0.7473,0.7921,0.8396,0.89,0.9434],"tickSize":3,"domain":false,"labels":false,"grid":false,"title":null,"tickColor":"black"}},
"y":{"datum":0,"type":"quantitative","scale":{"domain":[-0.10753,1.11111],"nice":false,"zero":false},"axis":{"orient":"right","offset":-316,"values":[0.0972,0.1092,0.1228,0.1379,0.155,0.1741,0.1956,0.2198,0.247,0.2775,0.3118,0.3305,0.3504,0.3714,0.3937,0.4173,0.4423,0.4689,0.497,0.5268,0.5584,0.5919,0.6274,0.6651,0.705,0.7473,0.7921,0.8396,0.89,0.9434],"tickSize":4,"domain":false,"labels":false,"grid":false,"title":null,"tickColor":"black"}},
"radius":{"datum":1,"type":"quantitative","scale":{"type":"linear","domain":[0,1],"range":[0,279],"zero":true,"nice":false}}}},
{"data":{"values":[{"k":1}]},
"mark":{"type":"arc","theta":-0.7853982,"theta2":0.7853982,"filled":false,"stroke":"black","strokeWidth":1},
"encoding":{"x":{"datum":0,"type":"quantitative","scale":{"domain":[-1.07168,1.13262],"nice":false,"zero":false},"axis":null},"y":{"datum":0,"type":"quantitative","scale":{"domain":[-0.10753,1.11111],"nice":false,"zero":false},"axis":null},"radius":{"datum":1,"type":"quantitative","scale":{"type":"linear","domain":[0,1],"range":[0,279],"zero":true,"nice":false}}}},
{"data":{"values":[{"k":1}]},
"mark":{"type":"arc","theta":-1.5707963,"theta2":1.5707963,"filled":false,"stroke":"black","strokeWidth":5,"strokeDash":[0.5,23.629]},
"encoding":{"x":{"datum":0,"type":"quantitative","scale":{"domain":[-1.07168,1.13262],"nice":false,"zero":false},"axis":null},"y":{"datum":0,"type":"quantitative","scale":{"domain":[-0.10753,1.11111],"nice":false,"zero":false},"axis":null},"radius":{"datum":0.99104,"type":"quantitative","scale":{"type":"linear","domain":[0,1],"range":[0,279],"zero":true,"nice":false}},"radius2":{"datum":0.99104}}},
{"data":{"values":[{"k":1}]},
"mark":{"type":"rule","stroke":"black","strokeWidth":1},
"encoding":{"x":{"datum":0,"type":"quantitative","scale":{"domain":[-1.07168,1.13262],"nice":false,"zero":false},"axis":null},"y":{"datum":0,"type":"quantitative","scale":{"domain":[-0.10753,1.11111],"nice":false,"zero":false},"axis":null},"y2":{"datum":1}}},
{"data":{"name":"rings"},"transform":[{"filter":"datum.lab != ''"},{"calculate":"exp(0.058267*datum.db)","as":"r"}],
"mark":{"type":"text","font":"Liberation Sans","fontSize":21,"align":"center","baseline":"middle","fill":"white","stroke":"white","strokeWidth":8},
"encoding":{"x":{"datum":0,"type":"quantitative","scale":{"domain":[-1.07168,1.13262],"nice":false,"zero":false},"axis":null},"y":{"field":"r","type":"quantitative","scale":{"domain":[-0.10753,1.11111],"nice":false,"zero":false},"axis":null},"text":{"field":"lab"}}},
{"data":{"name":"rings"},"transform":[{"filter":"datum.lab != ''"},{"calculate":"exp(0.058267*datum.db)","as":"r"}],
"mark":{"type":"text","font":"Liberation Sans","fontSize":21,"align":"center","baseline":"middle","fill":"black"},
"encoding":{"x":{"datum":0,"type":"quantitative","scale":{"domain":[-1.07168,1.13262],"nice":false,"zero":false},"axis":null},"y":{"field":"r","type":"quantitative","scale":{"domain":[-0.10753,1.11111],"nice":false,"zero":false},"axis":null},"text":{"field":"lab"}}},
{"data":{"name":"pat"},"transform":[{"filter":"datum.b == 14"},{"calculate":"exp(0.058267*datum.g)","as":"r"},{"calculate":"datum.r*cos(datum.a*PI/180)","as":"px"},{"calculate":"datum.r*sin(datum.a*PI/180)","as":"py"}],
"mark":{"type":"line","stroke":"black","strokeWidth":1.8,"strokeJoin":"round","interpolate":"catmull-rom"},
"encoding":{"x":{"field":"px","type":"quantitative","scale":{"domain":[-1.07168,1.13262],"nice":false,"zero":false},"axis":null},"y":{"field":"py","type":"quantitative","scale":{"domain":[-0.10753,1.11111],"nice":false,"zero":false},"axis":null},"order":{"field":"a","type":"quantitative"}}},
{"data":{"name":"info"},"transform":[{"filter":"datum.b == 14"},{"calculate":"cos(datum.ang*PI/180)","as":"px"},{"calculate":"sin(datum.ang*PI/180)","as":"py"}],
"mark":{"type":"point","shape":"circle","filled":true,"fill":"#00e000","stroke":"#ff00ff","strokeWidth":1.5,"size":55,"opacity":1},
"encoding":{"x":{"field":"px","type":"quantitative","scale":{"domain":[-1.07168,1.13262],"nice":false,"zero":false},"axis":null},"y":{"field":"py","type":"quantitative","scale":{"domain":[-0.10753,1.11111],"nice":false,"zero":false},"axis":null}}},
{"data":{"name":"info"},"transform":[{"filter":"datum.b == 14"}],
"mark":{"type":"text","font":"Liberation Sans","fontSize":38,"align":"left","baseline":"alphabetic","fill":"black"},
"encoding":{"x":{"datum":-1.032,"type":"quantitative","scale":{"domain":[-1.07168,1.13262],"nice":false,"zero":false},"axis":null},"y":{"datum":0.867,"type":"quantitative","scale":{"domain":[-0.10753,1.11111],"nice":false,"zero":false},"axis":null},"text":{"field":"f"}}},
{"data":{"name":"info"},"transform":[{"filter":"datum.b == 14"}],
"mark":{"type":"text","font":"Liberation Sans","fontSize":37,"align":"center","baseline":"alphabetic","fill":"black"},
"encoding":{"x":{"datum":0.839,"type":"quantitative","scale":{"domain":[-1.07168,1.13262],"nice":false,"zero":false},"axis":null},"y":{"datum":0.907,"type":"quantitative","scale":{"domain":[-0.10753,1.11111],"nice":false,"zero":false},"axis":null},"text":{"field":"gn"}}},
{"data":{"name":"info"},"transform":[{"filter":"datum.b == 14"}],
"mark":{"type":"text","font":"Liberation Sans","fontSize":37,"align":"center","baseline":"alphabetic","fill":"black"},
"encoding":{"x":{"datum":0.803,"type":"quantitative","scale":{"domain":[-1.07168,1.13262],"nice":false,"zero":false},"axis":null},"y":{"datum":0.746,"type":"quantitative","scale":{"domain":[-0.10753,1.11111],"nice":false,"zero":false},"axis":null},"text":{"field":"an"}}}
]},
{"width":615,"height":340,"resolve":{"axis":{"x":"independent","y":"independent"}},
"layer":[
{"data":{"name":"rings"},"transform":[{"filter":"datum.db < 0"},{"calculate":"exp(0.058267*datum.db)","as":"r"}],
"mark":{"type":"arc","theta":-1.5707963,"theta2":1.5707963,"filled":false,"stroke":"black","strokeWidth":1,"strokeDash":[3,3]},
"encoding":{"x":{"datum":0,"type":"quantitative","scale":{"domain":[-1.17778,1.1],"nice":false,"zero":false},"axis":{"orient":"bottom","offset":-37,"values":[-0.9434,-0.89,-0.8396,-0.7921,-0.7473,-0.705,-0.6651,-0.6274,-0.5919,-0.5584,-0.5268,-0.497,-0.4689,-0.4423,-0.4173,-0.3937,-0.3714,-0.3504,-0.3305,-0.3118,-0.2775,-0.247,-0.2198,-0.1956,-0.1741,-0.155,-0.1379,-0.1228,-0.1092,-0.0972,0.0972,0.1092,0.1228,0.1379,0.155,0.1741,0.1956,0.2198,0.247,0.2775,0.3118,0.3305,0.3504,0.3714,0.3937,0.4173,0.4423,0.4689,0.497,0.5268,0.5584,0.5919,0.6274,0.6651,0.705,0.7473,0.7921,0.8396,0.89,0.9434],"tickSize":3,"domain":false,"labels":false,"grid":false,"title":null,"tickColor":"black"}},
"y":{"datum":0,"type":"quantitative","scale":{"domain":[-0.13704,1.12222],"nice":false,"zero":false},"axis":{"orient":"left","offset":-318,"values":[0.0972,0.1092,0.1228,0.1379,0.155,0.1741,0.1956,0.2198,0.247,0.2775,0.3118,0.3305,0.3504,0.3714,0.3937,0.4173,0.4423,0.4689,0.497,0.5268,0.5584,0.5919,0.6274,0.6651,0.705,0.7473,0.7921,0.8396,0.89,0.9434],"tickSize":4,"domain":false,"labels":false,"grid":false,"title":null,"tickColor":"black"}},
"radius":{"field":"r","type":"quantitative","stack":null,"scale":{"type":"linear","domain":[0,1],"range":[0,270],"zero":true,"nice":false}}}},
{"data":{"values":[{"k":1}]},
"mark":{"type":"arc","theta":-1.5707963,"theta2":1.5707963,"filled":false,"stroke":"black","strokeWidth":1.5},
"encoding":{"x":{"datum":0,"type":"quantitative","scale":{"domain":[-1.17778,1.1],"nice":false,"zero":false},"axis":{"orient":"top","offset":-303,"values":[-0.9434,-0.89,-0.8396,-0.7921,-0.7473,-0.705,-0.6651,-0.6274,-0.5919,-0.5584,-0.5268,-0.497,-0.4689,-0.4423,-0.4173,-0.3937,-0.3714,-0.3504,-0.3305,-0.3118,-0.2775,-0.247,-0.2198,-0.1956,-0.1741,-0.155,-0.1379,-0.1228,-0.1092,-0.0972,0.0972,0.1092,0.1228,0.1379,0.155,0.1741,0.1956,0.2198,0.247,0.2775,0.3118,0.3305,0.3504,0.3714,0.3937,0.4173,0.4423,0.4689,0.497,0.5268,0.5584,0.5919,0.6274,0.6651,0.705,0.7473,0.7921,0.8396,0.89,0.9434],"tickSize":3,"domain":false,"labels":false,"grid":false,"title":null,"tickColor":"black"}},
"y":{"datum":0,"type":"quantitative","scale":{"domain":[-0.13704,1.12222],"nice":false,"zero":false},"axis":{"orient":"right","offset":-297,"values":[0.0972,0.1092,0.1228,0.1379,0.155,0.1741,0.1956,0.2198,0.247,0.2775,0.3118,0.3305,0.3504,0.3714,0.3937,0.4173,0.4423,0.4689,0.497,0.5268,0.5584,0.5919,0.6274,0.6651,0.705,0.7473,0.7921,0.8396,0.89,0.9434],"tickSize":4,"domain":false,"labels":false,"grid":false,"title":null,"tickColor":"black"}},
"radius":{"datum":1,"type":"quantitative","scale":{"type":"linear","domain":[0,1],"range":[0,270],"zero":true,"nice":false}}}},
{"data":{"values":[{"k":1}]},
"mark":{"type":"arc","theta":-0.7853982,"theta2":0.7853982,"filled":false,"stroke":"black","strokeWidth":1},
"encoding":{"x":{"datum":0,"type":"quantitative","scale":{"domain":[-1.17778,1.1],"nice":false,"zero":false},"axis":null},"y":{"datum":0,"type":"quantitative","scale":{"domain":[-0.13704,1.12222],"nice":false,"zero":false},"axis":null},"radius":{"datum":1,"type":"quantitative","scale":{"type":"linear","domain":[0,1],"range":[0,270],"zero":true,"nice":false}}}},
{"data":{"values":[{"k":1}]},
"mark":{"type":"arc","theta":-1.5707963,"theta2":1.5707963,"filled":false,"stroke":"black","strokeWidth":5,"strokeDash":[0.5,22.844]},
"encoding":{"x":{"datum":0,"type":"quantitative","scale":{"domain":[-1.17778,1.1],"nice":false,"zero":false},"axis":null},"y":{"datum":0,"type":"quantitative","scale":{"domain":[-0.13704,1.12222],"nice":false,"zero":false},"axis":null},"radius":{"datum":0.99074,"type":"quantitative","scale":{"type":"linear","domain":[0,1],"range":[0,270],"zero":true,"nice":false}},"radius2":{"datum":0.99074}}},
{"data":{"values":[{"k":1}]},
"mark":{"type":"rule","stroke":"black","strokeWidth":1},
"encoding":{"x":{"datum":0,"type":"quantitative","scale":{"domain":[-1.17778,1.1],"nice":false,"zero":false},"axis":null},"y":{"datum":0,"type":"quantitative","scale":{"domain":[-0.13704,1.12222],"nice":false,"zero":false},"axis":null},"y2":{"datum":1}}},
{"data":{"name":"rings"},"transform":[{"filter":"datum.lab != ''"},{"calculate":"exp(0.058267*datum.db)","as":"r"}],
"mark":{"type":"text","font":"Liberation Sans","fontSize":21,"align":"center","baseline":"middle","fill":"white","stroke":"white","strokeWidth":8},
"encoding":{"x":{"datum":0,"type":"quantitative","scale":{"domain":[-1.17778,1.1],"nice":false,"zero":false},"axis":null},"y":{"field":"r","type":"quantitative","scale":{"domain":[-0.13704,1.12222],"nice":false,"zero":false},"axis":null},"text":{"field":"lab"}}},
{"data":{"name":"rings"},"transform":[{"filter":"datum.lab != ''"},{"calculate":"exp(0.058267*datum.db)","as":"r"}],
"mark":{"type":"text","font":"Liberation Sans","fontSize":21,"align":"center","baseline":"middle","fill":"black"},
"encoding":{"x":{"datum":0,"type":"quantitative","scale":{"domain":[-1.17778,1.1],"nice":false,"zero":false},"axis":null},"y":{"field":"r","type":"quantitative","scale":{"domain":[-0.13704,1.12222],"nice":false,"zero":false},"axis":null},"text":{"field":"lab"}}},
{"data":{"name":"pat"},"transform":[{"filter":"datum.b == 25"},{"calculate":"exp(0.058267*datum.g)","as":"r"},{"calculate":"datum.r*cos(datum.a*PI/180)","as":"px"},{"calculate":"datum.r*sin(datum.a*PI/180)","as":"py"}],
"mark":{"type":"line","stroke":"black","strokeWidth":1.8,"strokeJoin":"round","interpolate":"catmull-rom"},
"encoding":{"x":{"field":"px","type":"quantitative","scale":{"domain":[-1.17778,1.1],"nice":false,"zero":false},"axis":null},"y":{"field":"py","type":"quantitative","scale":{"domain":[-0.13704,1.12222],"nice":false,"zero":false},"axis":null},"order":{"field":"a","type":"quantitative"}}},
{"data":{"name":"info"},"transform":[{"filter":"datum.b == 25"},{"calculate":"cos(datum.ang*PI/180)","as":"px"},{"calculate":"sin(datum.ang*PI/180)","as":"py"}],
"mark":{"type":"point","shape":"circle","filled":true,"fill":"#00e000","stroke":"#ff00ff","strokeWidth":1.5,"size":55,"opacity":1},
"encoding":{"x":{"field":"px","type":"quantitative","scale":{"domain":[-1.17778,1.1],"nice":false,"zero":false},"axis":null},"y":{"field":"py","type":"quantitative","scale":{"domain":[-0.13704,1.12222],"nice":false,"zero":false},"axis":null}}},
{"data":{"name":"info"},"transform":[{"filter":"datum.b == 25"}],
"mark":{"type":"text","font":"Liberation Sans","fontSize":38,"align":"left","baseline":"alphabetic","fill":"black"},
"encoding":{"x":{"datum":-1.063,"type":"quantitative","scale":{"domain":[-1.17778,1.1],"nice":false,"zero":false},"axis":null},"y":{"datum":0.867,"type":"quantitative","scale":{"domain":[-0.13704,1.12222],"nice":false,"zero":false},"axis":null},"text":{"field":"f"}}},
{"data":{"name":"info"},"transform":[{"filter":"datum.b == 25"}],
"mark":{"type":"text","font":"Liberation Sans","fontSize":37,"align":"center","baseline":"alphabetic","fill":"black"},
"encoding":{"x":{"datum":0.848,"type":"quantitative","scale":{"domain":[-1.17778,1.1],"nice":false,"zero":false},"axis":null},"y":{"datum":0.941,"type":"quantitative","scale":{"domain":[-0.13704,1.12222],"nice":false,"zero":false},"axis":null},"text":{"field":"gn"}}},
{"data":{"name":"info"},"transform":[{"filter":"datum.b == 25"}],
"mark":{"type":"text","font":"Liberation Sans","fontSize":37,"align":"center","baseline":"alphabetic","fill":"black"},
"encoding":{"x":{"datum":0.826,"type":"quantitative","scale":{"domain":[-1.17778,1.1],"nice":false,"zero":false},"axis":null},"y":{"datum":0.77,"type":"quantitative","scale":{"domain":[-0.13704,1.12222],"nice":false,"zero":false},"axis":null},"text":{"field":"an"}}}
]},
{"width":615,"height":340,"resolve":{"axis":{"x":"independent","y":"independent"}},
"layer":[
{"data":{"name":"rings"},"transform":[{"filter":"datum.db < 0"},{"calculate":"exp(0.058267*datum.db)","as":"r"}],
"mark":{"type":"arc","theta":-1.5707963,"theta2":1.5707963,"filled":false,"stroke":"black","strokeWidth":1,"strokeDash":[3,3]},
"encoding":{"x":{"datum":0,"type":"quantitative","scale":{"domain":[-1.06093,1.14337],"nice":false,"zero":false},"axis":{"orient":"bottom","offset":-33,"values":[-0.9434,-0.89,-0.8396,-0.7921,-0.7473,-0.705,-0.6651,-0.6274,-0.5919,-0.5584,-0.5268,-0.497,-0.4689,-0.4423,-0.4173,-0.3937,-0.3714,-0.3504,-0.3305,-0.3118,-0.2775,-0.247,-0.2198,-0.1956,-0.1741,-0.155,-0.1379,-0.1228,-0.1092,-0.0972,0.0972,0.1092,0.1228,0.1379,0.155,0.1741,0.1956,0.2198,0.247,0.2775,0.3118,0.3305,0.3504,0.3714,0.3937,0.4173,0.4423,0.4689,0.497,0.5268,0.5584,0.5919,0.6274,0.6651,0.705,0.7473,0.7921,0.8396,0.89,0.9434],"tickSize":3,"domain":false,"labels":false,"grid":false,"title":null,"tickColor":"black"}},
"y":{"datum":0,"type":"quantitative","scale":{"domain":[-0.11828,1.10036],"nice":false,"zero":false},"axis":{"orient":"left","offset":-296,"values":[0.0972,0.1092,0.1228,0.1379,0.155,0.1741,0.1956,0.2198,0.247,0.2775,0.3118,0.3305,0.3504,0.3714,0.3937,0.4173,0.4423,0.4689,0.497,0.5268,0.5584,0.5919,0.6274,0.6651,0.705,0.7473,0.7921,0.8396,0.89,0.9434],"tickSize":4,"domain":false,"labels":false,"grid":false,"title":null,"tickColor":"black"}},
"radius":{"field":"r","type":"quantitative","stack":null,"scale":{"type":"linear","domain":[0,1],"range":[0,279],"zero":true,"nice":false}}}},
{"data":{"values":[{"k":1}]},
"mark":{"type":"arc","theta":-1.5707963,"theta2":1.5707963,"filled":false,"stroke":"black","strokeWidth":1.5},
"encoding":{"x":{"datum":0,"type":"quantitative","scale":{"domain":[-1.06093,1.14337],"nice":false,"zero":false},"axis":{"orient":"top","offset":-307,"values":[-0.9434,-0.89,-0.8396,-0.7921,-0.7473,-0.705,-0.6651,-0.6274,-0.5919,-0.5584,-0.5268,-0.497,-0.4689,-0.4423,-0.4173,-0.3937,-0.3714,-0.3504,-0.3305,-0.3118,-0.2775,-0.247,-0.2198,-0.1956,-0.1741,-0.155,-0.1379,-0.1228,-0.1092,-0.0972,0.0972,0.1092,0.1228,0.1379,0.155,0.1741,0.1956,0.2198,0.247,0.2775,0.3118,0.3305,0.3504,0.3714,0.3937,0.4173,0.4423,0.4689,0.497,0.5268,0.5584,0.5919,0.6274,0.6651,0.705,0.7473,0.7921,0.8396,0.89,0.9434],"tickSize":3,"domain":false,"labels":false,"grid":false,"title":null,"tickColor":"black"}},
"y":{"datum":0,"type":"quantitative","scale":{"domain":[-0.11828,1.10036],"nice":false,"zero":false},"axis":{"orient":"right","offset":-319,"values":[0.0972,0.1092,0.1228,0.1379,0.155,0.1741,0.1956,0.2198,0.247,0.2775,0.3118,0.3305,0.3504,0.3714,0.3937,0.4173,0.4423,0.4689,0.497,0.5268,0.5584,0.5919,0.6274,0.6651,0.705,0.7473,0.7921,0.8396,0.89,0.9434],"tickSize":4,"domain":false,"labels":false,"grid":false,"title":null,"tickColor":"black"}},
"radius":{"datum":1,"type":"quantitative","scale":{"type":"linear","domain":[0,1],"range":[0,279],"zero":true,"nice":false}}}},
{"data":{"values":[{"k":1}]},
"mark":{"type":"arc","theta":-0.7853982,"theta2":0.7853982,"filled":false,"stroke":"black","strokeWidth":1},
"encoding":{"x":{"datum":0,"type":"quantitative","scale":{"domain":[-1.06093,1.14337],"nice":false,"zero":false},"axis":null},"y":{"datum":0,"type":"quantitative","scale":{"domain":[-0.11828,1.10036],"nice":false,"zero":false},"axis":null},"radius":{"datum":1,"type":"quantitative","scale":{"type":"linear","domain":[0,1],"range":[0,279],"zero":true,"nice":false}}}},
{"data":{"values":[{"k":1}]},
"mark":{"type":"arc","theta":-1.5707963,"theta2":1.5707963,"filled":false,"stroke":"black","strokeWidth":5,"strokeDash":[0.5,23.629]},
"encoding":{"x":{"datum":0,"type":"quantitative","scale":{"domain":[-1.06093,1.14337],"nice":false,"zero":false},"axis":null},"y":{"datum":0,"type":"quantitative","scale":{"domain":[-0.11828,1.10036],"nice":false,"zero":false},"axis":null},"radius":{"datum":0.99104,"type":"quantitative","scale":{"type":"linear","domain":[0,1],"range":[0,279],"zero":true,"nice":false}},"radius2":{"datum":0.99104}}},
{"data":{"values":[{"k":1}]},
"mark":{"type":"rule","stroke":"black","strokeWidth":1},
"encoding":{"x":{"datum":0,"type":"quantitative","scale":{"domain":[-1.06093,1.14337],"nice":false,"zero":false},"axis":null},"y":{"datum":0,"type":"quantitative","scale":{"domain":[-0.11828,1.10036],"nice":false,"zero":false},"axis":null},"y2":{"datum":1}}},
{"data":{"name":"rings"},"transform":[{"filter":"datum.lab != ''"},{"calculate":"exp(0.058267*datum.db)","as":"r"}],
"mark":{"type":"text","font":"Liberation Sans","fontSize":21,"align":"center","baseline":"middle","fill":"white","stroke":"white","strokeWidth":8},
"encoding":{"x":{"datum":0,"type":"quantitative","scale":{"domain":[-1.06093,1.14337],"nice":false,"zero":false},"axis":null},"y":{"field":"r","type":"quantitative","scale":{"domain":[-0.11828,1.10036],"nice":false,"zero":false},"axis":null},"text":{"field":"lab"}}},
{"data":{"name":"rings"},"transform":[{"filter":"datum.lab != ''"},{"calculate":"exp(0.058267*datum.db)","as":"r"}],
"mark":{"type":"text","font":"Liberation Sans","fontSize":21,"align":"center","baseline":"middle","fill":"black"},
"encoding":{"x":{"datum":0,"type":"quantitative","scale":{"domain":[-1.06093,1.14337],"nice":false,"zero":false},"axis":null},"y":{"field":"r","type":"quantitative","scale":{"domain":[-0.11828,1.10036],"nice":false,"zero":false},"axis":null},"text":{"field":"lab"}}},
{"data":{"name":"pat"},"transform":[{"filter":"datum.b == 18"},{"calculate":"exp(0.058267*datum.g)","as":"r"},{"calculate":"datum.r*cos(datum.a*PI/180)","as":"px"},{"calculate":"datum.r*sin(datum.a*PI/180)","as":"py"}],
"mark":{"type":"line","stroke":"black","strokeWidth":1.8,"strokeJoin":"round","interpolate":"catmull-rom"},
"encoding":{"x":{"field":"px","type":"quantitative","scale":{"domain":[-1.06093,1.14337],"nice":false,"zero":false},"axis":null},"y":{"field":"py","type":"quantitative","scale":{"domain":[-0.11828,1.10036],"nice":false,"zero":false},"axis":null},"order":{"field":"a","type":"quantitative"}}},
{"data":{"name":"info"},"transform":[{"filter":"datum.b == 18"},{"calculate":"cos(datum.ang*PI/180)","as":"px"},{"calculate":"sin(datum.ang*PI/180)","as":"py"}],
"mark":{"type":"point","shape":"circle","filled":true,"fill":"#00e000","stroke":"#ff00ff","strokeWidth":1.5,"size":55,"opacity":1},
"encoding":{"x":{"field":"px","type":"quantitative","scale":{"domain":[-1.06093,1.14337],"nice":false,"zero":false},"axis":null},"y":{"field":"py","type":"quantitative","scale":{"domain":[-0.11828,1.10036],"nice":false,"zero":false},"axis":null}}},
{"data":{"name":"info"},"transform":[{"filter":"datum.b == 18"}],
"mark":{"type":"text","font":"Liberation Sans","fontSize":38,"align":"left","baseline":"alphabetic","fill":"black"},
"encoding":{"x":{"datum":-1.029,"type":"quantitative","scale":{"domain":[-1.06093,1.14337],"nice":false,"zero":false},"axis":null},"y":{"datum":0.86,"type":"quantitative","scale":{"domain":[-0.11828,1.10036],"nice":false,"zero":false},"axis":null},"text":{"field":"f"}}},
{"data":{"name":"info"},"transform":[{"filter":"datum.b == 18"}],
"mark":{"type":"text","font":"Liberation Sans","fontSize":37,"align":"center","baseline":"alphabetic","fill":"black"},
"encoding":{"x":{"datum":0.86,"type":"quantitative","scale":{"domain":[-1.06093,1.14337],"nice":false,"zero":false},"axis":null},"y":{"datum":0.928,"type":"quantitative","scale":{"domain":[-0.11828,1.10036],"nice":false,"zero":false},"axis":null},"text":{"field":"gn"}}},
{"data":{"name":"info"},"transform":[{"filter":"datum.b == 18"}],
"mark":{"type":"text","font":"Liberation Sans","fontSize":37,"align":"center","baseline":"alphabetic","fill":"black"},
"encoding":{"x":{"datum":0.839,"type":"quantitative","scale":{"domain":[-1.06093,1.14337],"nice":false,"zero":false},"axis":null},"y":{"datum":0.763,"type":"quantitative","scale":{"domain":[-0.11828,1.10036],"nice":false,"zero":false},"axis":null},"text":{"field":"an"}}}
]},
{"width":615,"height":340,"resolve":{"axis":{"x":"independent","y":"independent"}},
"layer":[
{"data":{"name":"rings"},"transform":[{"filter":"datum.db < 0"},{"calculate":"exp(0.058267*datum.db)","as":"r"}],
"mark":{"type":"arc","theta":-1.5707963,"theta2":1.5707963,"filled":false,"stroke":"black","strokeWidth":1,"strokeDash":[3,3]},
"encoding":{"x":{"datum":0,"type":"quantitative","scale":{"domain":[-1.16605,1.10332],"nice":false,"zero":false},"axis":{"orient":"bottom","offset":-38,"values":[-0.9434,-0.89,-0.8396,-0.7921,-0.7473,-0.705,-0.6651,-0.6274,-0.5919,-0.5584,-0.5268,-0.497,-0.4689,-0.4423,-0.4173,-0.3937,-0.3714,-0.3504,-0.3305,-0.3118,-0.2775,-0.247,-0.2198,-0.1956,-0.1741,-0.155,-0.1379,-0.1228,-0.1092,-0.0972,0.0972,0.1092,0.1228,0.1379,0.155,0.1741,0.1956,0.2198,0.247,0.2775,0.3118,0.3305,0.3504,0.3714,0.3937,0.4173,0.4423,0.4689,0.497,0.5268,0.5584,0.5919,0.6274,0.6651,0.705,0.7473,0.7921,0.8396,0.89,0.9434],"tickSize":3,"domain":false,"labels":false,"grid":false,"title":null,"tickColor":"black"}},
"y":{"datum":0,"type":"quantitative","scale":{"domain":[-0.14022,1.11439],"nice":false,"zero":false},"axis":{"orient":"left","offset":-316,"values":[0.0972,0.1092,0.1228,0.1379,0.155,0.1741,0.1956,0.2198,0.247,0.2775,0.3118,0.3305,0.3504,0.3714,0.3937,0.4173,0.4423,0.4689,0.497,0.5268,0.5584,0.5919,0.6274,0.6651,0.705,0.7473,0.7921,0.8396,0.89,0.9434],"tickSize":4,"domain":false,"labels":false,"grid":false,"title":null,"tickColor":"black"}},
"radius":{"field":"r","type":"quantitative","stack":null,"scale":{"type":"linear","domain":[0,1],"range":[0,271],"zero":true,"nice":false}}}},
{"data":{"values":[{"k":1}]},
"mark":{"type":"arc","theta":-1.5707963,"theta2":1.5707963,"filled":false,"stroke":"black","strokeWidth":1.5},
"encoding":{"x":{"datum":0,"type":"quantitative","scale":{"domain":[-1.16605,1.10332],"nice":false,"zero":false},"axis":{"orient":"top","offset":-302,"values":[-0.9434,-0.89,-0.8396,-0.7921,-0.7473,-0.705,-0.6651,-0.6274,-0.5919,-0.5584,-0.5268,-0.497,-0.4689,-0.4423,-0.4173,-0.3937,-0.3714,-0.3504,-0.3305,-0.3118,-0.2775,-0.247,-0.2198,-0.1956,-0.1741,-0.155,-0.1379,-0.1228,-0.1092,-0.0972,0.0972,0.1092,0.1228,0.1379,0.155,0.1741,0.1956,0.2198,0.247,0.2775,0.3118,0.3305,0.3504,0.3714,0.3937,0.4173,0.4423,0.4689,0.497,0.5268,0.5584,0.5919,0.6274,0.6651,0.705,0.7473,0.7921,0.8396,0.89,0.9434],"tickSize":3,"domain":false,"labels":false,"grid":false,"title":null,"tickColor":"black"}},
"y":{"datum":0,"type":"quantitative","scale":{"domain":[-0.14022,1.11439],"nice":false,"zero":false},"axis":{"orient":"right","offset":-299,"values":[0.0972,0.1092,0.1228,0.1379,0.155,0.1741,0.1956,0.2198,0.247,0.2775,0.3118,0.3305,0.3504,0.3714,0.3937,0.4173,0.4423,0.4689,0.497,0.5268,0.5584,0.5919,0.6274,0.6651,0.705,0.7473,0.7921,0.8396,0.89,0.9434],"tickSize":4,"domain":false,"labels":false,"grid":false,"title":null,"tickColor":"black"}},
"radius":{"datum":1,"type":"quantitative","scale":{"type":"linear","domain":[0,1],"range":[0,271],"zero":true,"nice":false}}}},
{"data":{"values":[{"k":1}]},
"mark":{"type":"arc","theta":-0.7853982,"theta2":0.7853982,"filled":false,"stroke":"black","strokeWidth":1},
"encoding":{"x":{"datum":0,"type":"quantitative","scale":{"domain":[-1.16605,1.10332],"nice":false,"zero":false},"axis":null},"y":{"datum":0,"type":"quantitative","scale":{"domain":[-0.14022,1.11439],"nice":false,"zero":false},"axis":null},"radius":{"datum":1,"type":"quantitative","scale":{"type":"linear","domain":[0,1],"range":[0,271],"zero":true,"nice":false}}}},
{"data":{"values":[{"k":1}]},
"mark":{"type":"arc","theta":-1.5707963,"theta2":1.5707963,"filled":false,"stroke":"black","strokeWidth":5,"strokeDash":[0.5,22.931]},
"encoding":{"x":{"datum":0,"type":"quantitative","scale":{"domain":[-1.16605,1.10332],"nice":false,"zero":false},"axis":null},"y":{"datum":0,"type":"quantitative","scale":{"domain":[-0.14022,1.11439],"nice":false,"zero":false},"axis":null},"radius":{"datum":0.99077,"type":"quantitative","scale":{"type":"linear","domain":[0,1],"range":[0,271],"zero":true,"nice":false}},"radius2":{"datum":0.99077}}},
{"data":{"values":[{"k":1}]},
"mark":{"type":"rule","stroke":"black","strokeWidth":1},
"encoding":{"x":{"datum":0,"type":"quantitative","scale":{"domain":[-1.16605,1.10332],"nice":false,"zero":false},"axis":null},"y":{"datum":0,"type":"quantitative","scale":{"domain":[-0.14022,1.11439],"nice":false,"zero":false},"axis":null},"y2":{"datum":1}}},
{"data":{"name":"rings"},"transform":[{"filter":"datum.lab != ''"},{"calculate":"exp(0.058267*datum.db)","as":"r"}],
"mark":{"type":"text","font":"Liberation Sans","fontSize":21,"align":"center","baseline":"middle","fill":"white","stroke":"white","strokeWidth":8},
"encoding":{"x":{"datum":0,"type":"quantitative","scale":{"domain":[-1.16605,1.10332],"nice":false,"zero":false},"axis":null},"y":{"field":"r","type":"quantitative","scale":{"domain":[-0.14022,1.11439],"nice":false,"zero":false},"axis":null},"text":{"field":"lab"}}},
{"data":{"name":"rings"},"transform":[{"filter":"datum.lab != ''"},{"calculate":"exp(0.058267*datum.db)","as":"r"}],
"mark":{"type":"text","font":"Liberation Sans","fontSize":21,"align":"center","baseline":"middle","fill":"black"},
"encoding":{"x":{"datum":0,"type":"quantitative","scale":{"domain":[-1.16605,1.10332],"nice":false,"zero":false},"axis":null},"y":{"field":"r","type":"quantitative","scale":{"domain":[-0.14022,1.11439],"nice":false,"zero":false},"axis":null},"text":{"field":"lab"}}},
{"data":{"name":"pat"},"transform":[{"filter":"datum.b == 29"},{"calculate":"exp(0.058267*datum.g)","as":"r"},{"calculate":"datum.r*cos(datum.a*PI/180)","as":"px"},{"calculate":"datum.r*sin(datum.a*PI/180)","as":"py"}],
"mark":{"type":"line","stroke":"black","strokeWidth":1.8,"strokeJoin":"round","interpolate":"catmull-rom"},
"encoding":{"x":{"field":"px","type":"quantitative","scale":{"domain":[-1.16605,1.10332],"nice":false,"zero":false},"axis":null},"y":{"field":"py","type":"quantitative","scale":{"domain":[-0.14022,1.11439],"nice":false,"zero":false},"axis":null},"order":{"field":"a","type":"quantitative"}}},
{"data":{"name":"info"},"transform":[{"filter":"datum.b == 29"},{"calculate":"cos(datum.ang*PI/180)","as":"px"},{"calculate":"sin(datum.ang*PI/180)","as":"py"}],
"mark":{"type":"point","shape":"circle","filled":true,"fill":"#00e000","stroke":"#ff00ff","strokeWidth":1.5,"size":55,"opacity":1},
"encoding":{"x":{"field":"px","type":"quantitative","scale":{"domain":[-1.16605,1.10332],"nice":false,"zero":false},"axis":null},"y":{"field":"py","type":"quantitative","scale":{"domain":[-0.14022,1.11439],"nice":false,"zero":false},"axis":null}}},
{"data":{"name":"info"},"transform":[{"filter":"datum.b == 29"}],
"mark":{"type":"text","font":"Liberation Sans","fontSize":38,"align":"left","baseline":"alphabetic","fill":"black"},
"encoding":{"x":{"datum":-1.07,"type":"quantitative","scale":{"domain":[-1.16605,1.10332],"nice":false,"zero":false},"axis":null},"y":{"datum":0.86,"type":"quantitative","scale":{"domain":[-0.14022,1.11439],"nice":false,"zero":false},"axis":null},"text":{"field":"f"}}},
{"data":{"name":"info"},"transform":[{"filter":"datum.b == 29"}],
"mark":{"type":"text","font":"Liberation Sans","fontSize":37,"align":"center","baseline":"alphabetic","fill":"black"},
"encoding":{"x":{"datum":0.827,"type":"quantitative","scale":{"domain":[-1.16605,1.10332],"nice":false,"zero":false},"axis":null},"y":{"datum":0.937,"type":"quantitative","scale":{"domain":[-0.14022,1.11439],"nice":false,"zero":false},"axis":null},"text":{"field":"gn"}}},
{"data":{"name":"info"},"transform":[{"filter":"datum.b == 29"}],
"mark":{"type":"text","font":"Liberation Sans","fontSize":37,"align":"center","baseline":"alphabetic","fill":"black"},
"encoding":{"x":{"datum":0.808,"type":"quantitative","scale":{"domain":[-1.16605,1.10332],"nice":false,"zero":false},"axis":null},"y":{"datum":0.768,"type":"quantitative","scale":{"domain":[-0.14022,1.11439],"nice":false,"zero":false},"axis":null},"text":{"field":"an"}}}
]}
]
}
